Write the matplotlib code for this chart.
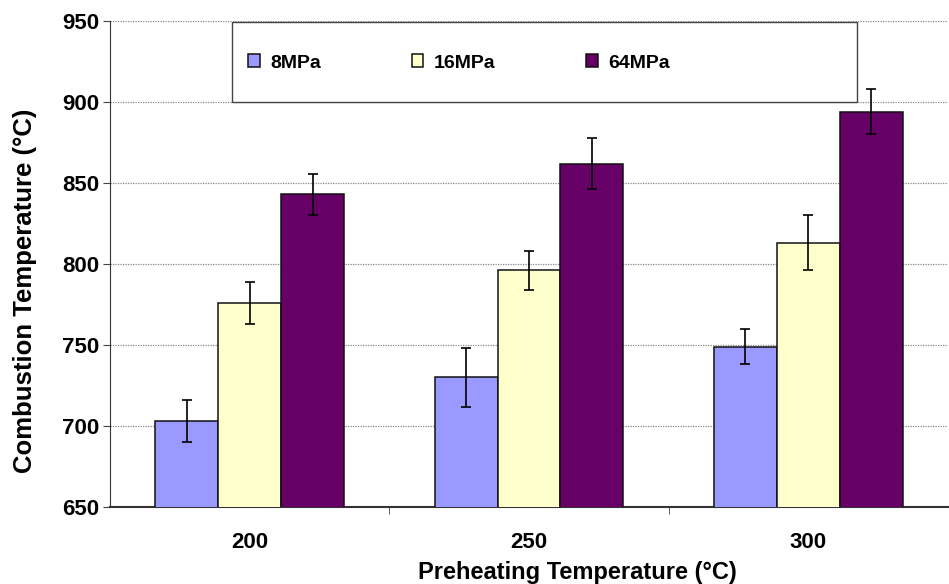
import numpy as np
import matplotlib.pyplot as plt
from matplotlib.patches import Rectangle

plt.rcParams['font.family'] = ['Liberation Sans', 'DejaVu Sans']
plt.rcParams['font.weight'] = 'bold'

categories = ['200', '250', '300']
series = ['8MPa', '16MPa', '64MPa']
values = {
    '8MPa': [703, 730, 749],
    '16MPa': [776, 796, 813],
    '64MPa': [843, 862, 894],
}
errors = {
    '8MPa': [13, 18, 11],
    '16MPa': [13, 12, 17],
    '64MPa': [12.5, 15.5, 14],
}
colors = ['#9999FF', '#FFFFCC', '#660066']

fig = plt.figure(figsize=(9.49, 5.84), dpi=100)
ax = fig.add_axes([110 / 949, 77 / 584, 838 / 949, 486 / 584])

x = np.arange(len(categories))
width = 0.225
for i, name in enumerate(series):
    ax.bar(x + (i - 1) * width, values[name], width, bottom=0,
           color=colors[i], edgecolor='#111111', linewidth=1.1,
           label=name, zorder=3)
    ax.errorbar(x + (i - 1) * width, values[name], yerr=errors[name],
                fmt='none', ecolor='black', elinewidth=1.2, capsize=3.5,
                capthick=1.2, zorder=4)

ax.set_xlim(-0.5, 2.5)
ax.set_ylim(650, 950)
ax.set_yticks(np.arange(650, 951, 50))
ax.set_xticks(x)
ax.set_xticklabels(categories)
ax.set_xticks([0.5, 1.5], minor=True)
ax.tick_params(axis='x', which='major', length=0, pad=18, labelsize=16)
ax.tick_params(axis='x', which='minor', length=5, color='#444444')
ax.tick_params(axis='y', length=5, pad=3, labelsize=16, color='#444444')

for v in range(700, 951, 50):
    ax.axhline(v, color='#888888', linestyle=(0, (1, 1)), linewidth=0.9, zorder=1)

ax.spines['top'].set_visible(False)
ax.spines['right'].set_visible(False)
ax.spines['left'].set_color('#333333')
ax.spines['bottom'].set_color('#333333')
ax.spines['bottom'].set_linewidth(1.5)

ax.set_xlabel('Preheating Temperature (°C)', fontsize=17, fontweight='bold')
ax.xaxis.set_label_coords(0.558, -0.112)
ax.set_ylabel('Combustion Temperature (°C)', fontsize=18.5, fontweight='bold')
ax.yaxis.set_label_coords(-0.087, 0.444)

# legend box
ax.add_patch(Rectangle((122 / 838, 405 / 486), 625 / 838, 80 / 486,
                       transform=ax.transAxes, facecolor='white',
                       edgecolor='#444444', linewidth=1.0, zorder=5))
leg = ax.legend(loc='center left', bbox_to_anchor=(138 / 838, 444 / 486),
                ncol=3, frameon=False, fontsize=14,
                handlelength=0.6, handleheight=0.6, borderaxespad=0,
                borderpad=0, handletextpad=0.55, columnspacing=4.65)
leg.set_zorder(6)
for t in leg.get_texts():
    t.set_fontweight('bold')

plt.savefig('out.png', dpi=100)
